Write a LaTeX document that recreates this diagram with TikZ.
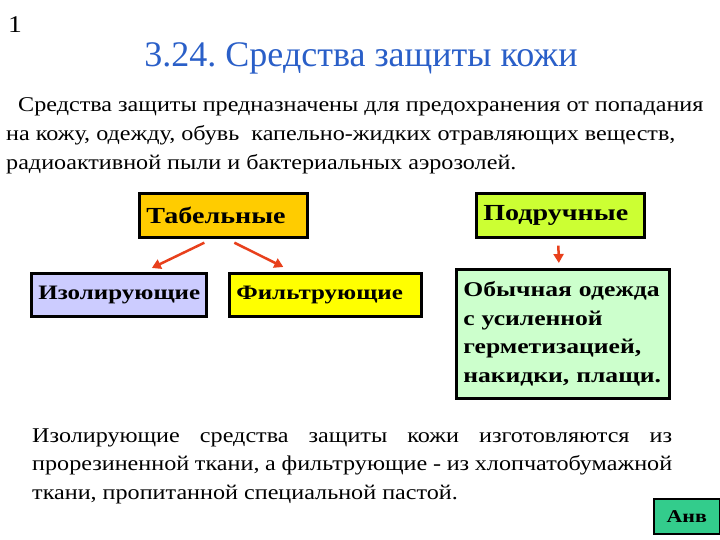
\documentclass[tikz,border=0pt]{standalone}
\usepackage{fontspec}
\setmainfont{Liberation Serif}[FakeStretch=1.15, BoldFeatures={FakeStretch=1.22}]
\newfontfamily\titlefont{Liberation Serif}
\usetikzlibrary{arrows.meta}
\definecolor{titleblue}{RGB}{42,95,200}
\definecolor{taborange}{RGB}{255,204,0}
\definecolor{izolav}{RGB}{204,204,255}
\definecolor{filyellow}{RGB}{255,255,0}
\definecolor{podlime}{RGB}{204,255,51}
\definecolor{odmint}{RGB}{204,255,204}
\definecolor{anvgreen}{RGB}{51,204,140}
\definecolor{arrred}{RGB}{232,64,28}
\newcommand{\bodyfont}{\fontsize{21}{29}\selectfont}
\frenchspacing

\begin{document}
\begin{tikzpicture}[x=1pt,y=-1pt,
  kind/.style={draw=black, line width=2.7pt, font=\fontsize{23}{28}\selectfont\bfseries,
    inner xsep=7pt, inner ysep=0pt, align=left, minimum height=44pt},
  sub/.style={kind, font=\fontsize{20.5}{26}\selectfont\bfseries, minimum height=43pt},
  arr/.style={arrred, line width=2.5pt, -{Triangle[length=9pt,width=10pt]}},
  line/.style={anchor=base west, inner sep=0pt, font=\bodyfont}]
  \useasboundingbox (0,0) rectangle (720,540);

  \node[anchor=base west, inner sep=0pt, font=\fontsize{24}{28}\selectfont] (num) at (8,33) {1};
  \node[anchor=base, inner sep=0pt, font=\titlefont\fontsize{36}{40}\selectfont, text=titleblue] (title) at (361,67)
    {3.24. Средства защиты кожи};

  % intro text
  \node[line] (in1) at (18,112) {Средства защиты предназначены для предохранения от попадания};
  \node[line] (in2) at (6,141) {на кожу, одежду, обувь\ \ капельно-жидких отравляющих веществ,};
  \node[line] (in3) at (6,170) {радиоактивной пыли и бактериальных аэрозолей.};

  % kinds
  \node[kind, fill=taborange, text width=154pt, anchor=north west] (tab) at (138,192) {Табельные};
  \node[kind, fill=podlime, text width=154pt, anchor=north west] (pod) at (475,192) {Подручные};
  \node[sub, fill=izolav, text width=161pt, anchor=north west] (izo) at (30,272) {Изолирующие};
  \node[sub, fill=filyellow, text width=178pt, anchor=north west] (fil) at (228,272) {Фильтрующие};
  \node[sub, fill=odmint, text width=199pt, minimum height=129pt, anchor=north west,
    font=\fontsize{21}{28.5}\selectfont\bfseries] (od) at (455,268)
    {Обычная одежда\\с усиленной\\герметизацией,\\накидки, плащи.};

  \draw[arr] ([xshift=-19pt,yshift=-4pt]tab.south) -- ([xshift=33pt,yshift=4pt]izo.north);
  \draw[arr] ([xshift=11pt,yshift=-4pt]tab.south) -- ([xshift=-42pt,yshift=5pt]fil.north);
  \draw[arr] ([xshift=-2pt,yshift=-7pt]pod.south) -- ([xshift=-4pt,yshift=5pt]od.north);

  % bottom text
  \node[line] (out1) at (32,442) {\makebox[640pt][s]{Изолирующие средства защиты кожи изготовляются из}};
  \node[line] (out2) at (32,470.5) {\makebox[640pt][s]{прорезиненной ткани, а фильтрующие - из хлопчатобумажной}};
  \node[line] (out3) at (32,499) {ткани, пропитанной специальной пастой.};

  \node[draw=black, line width=1.5pt, fill=anvgreen, anchor=north west, minimum width=66pt,
    minimum height=35pt, font=\fontsize{18}{22}\selectfont\bfseries] (anv) at (653,498) {Анв};
\end{tikzpicture}
\end{document}
